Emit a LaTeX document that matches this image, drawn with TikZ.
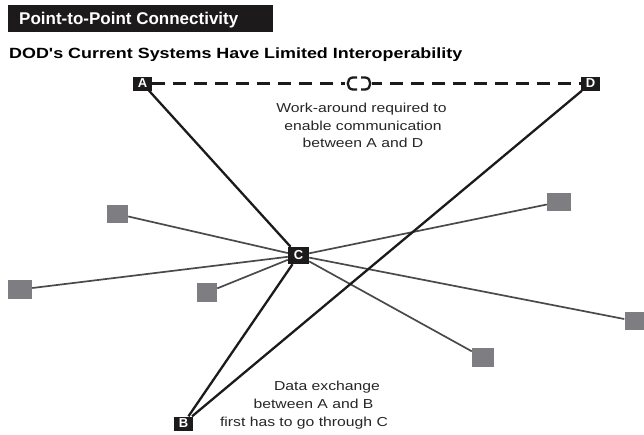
\documentclass[tikz,border=0pt]{standalone}
\usepackage{fontspec}
\setmainfont{Liberation Sans}
\newfontfamily\widefont{Liberation Sans}[FakeStretch=1.21]
\definecolor{boxblack}{HTML}{1C1A1A}
\definecolor{sqgray}{HTML}{7E7E82}
\definecolor{linegray}{HTML}{4A4A4A}
\begin{document}
\begin{tikzpicture}[x=1pt,y=-1pt,
  sysbox/.style={fill=boxblack, text=white, inner sep=0pt, font=\fontsize{13}{13}\selectfont\bfseries},
  graysq/.style={fill=sqgray, inner sep=0pt, minimum width=22pt, minimum height=18pt},
  mainlink/.style={draw=boxblack, line width=2.3pt},
  sublink/.style={draw=linegray, line width=1.7pt},
  note/.style={font=\widefont\fontsize{13}{13}\selectfont, anchor=base, inner sep=0pt, text=black!85}]
\useasboundingbox (0,0) rectangle (644,434);
% title
\node[fill=boxblack, minimum width=265pt, minimum height=27pt, inner sep=0pt, anchor=north west] (titlebox) at (8,5) {};
\node[text=white, font=\fontsize{17}{17}\selectfont\bfseries, anchor=base west, inner sep=0pt] (title) at (19,24) {Point-to-Point Connectivity};
\node[font=\widefont\fontsize{14.8}{14.8}\selectfont\bfseries, anchor=base west, inner sep=0pt] (subtitle) at (9,58) {DOD's Current Systems Have Limited Interoperability};
% main systems
\node[sysbox, minimum width=19pt, minimum height=14pt] (A) at (142.5,83.5) {A};
\node[sysbox, minimum width=19pt, minimum height=14pt] (D) at (590.5,83.5) {D};
\node[sysbox, minimum width=21pt, minimum height=17pt] (C) at (298.5,255.5) {C};
\node[sysbox, minimum width=19pt, minimum height=14pt] (B) at (183.5,423.5) {B};
% gray systems
\node[graysq, minimum width=21pt] (g1) at (117.5,214) {};
\node[graysq, minimum width=24pt] (g2) at (559,202) {};
\node[graysq, minimum width=24pt, minimum height=19pt] (g3) at (20,289.5) {};
\node[graysq, minimum width=20pt, minimum height=19pt] (g4) at (207,292.5) {};
\node[graysq, minimum width=20pt] (g5) at (634.5,321) {};
\node[graysq, minimum height=19pt] (g6) at (483,357.5) {};
% gray links
\foreach \g in {g1,g2,g3,g4,g5,g6} \draw[sublink] (C) -- (\g);
% black links
\draw[mainlink] (A) -- (C);
\draw[mainlink] (C) -- (B);
\draw[mainlink] (B) -- (D);
% dashed work-around link with break
\coordinate (brL) at (345,83.5);
\coordinate (brR) at (372,83.5);
\draw[boxblack, line width=2.5pt, dash pattern=on 13pt off 8pt] (A.east) -- (brL);
\draw[boxblack, line width=2.5pt, dash pattern=on 13pt off 8pt, dash phase=3pt] (brR) -- (D.west);
\draw[boxblack, line width=2.3pt] (357,77.5) -- (353,77.5) .. controls (346,77.5) and (346,89.5) .. (353,89.5) -- (357,89.5);
\draw[boxblack, line width=2.3pt] (361,77.5) -- (365,77.5) .. controls (372,77.5) and (372,89.5) .. (365,89.5) -- (361,89.5);
% notes
\node[note] (w1) at (361.5,112) {Work-around required to};
\node[note] (w2) at (363,130) {enable communication};
\node[note] (w3) at (363,147.5) {between A and D};
\node[note] (d1) at (327,390) {Data exchange};
\node[note] (d2) at (313.5,408) {between A and B};
\node[note] (d3) at (304,426) {first has to go through C};
\end{tikzpicture}
\end{document}
